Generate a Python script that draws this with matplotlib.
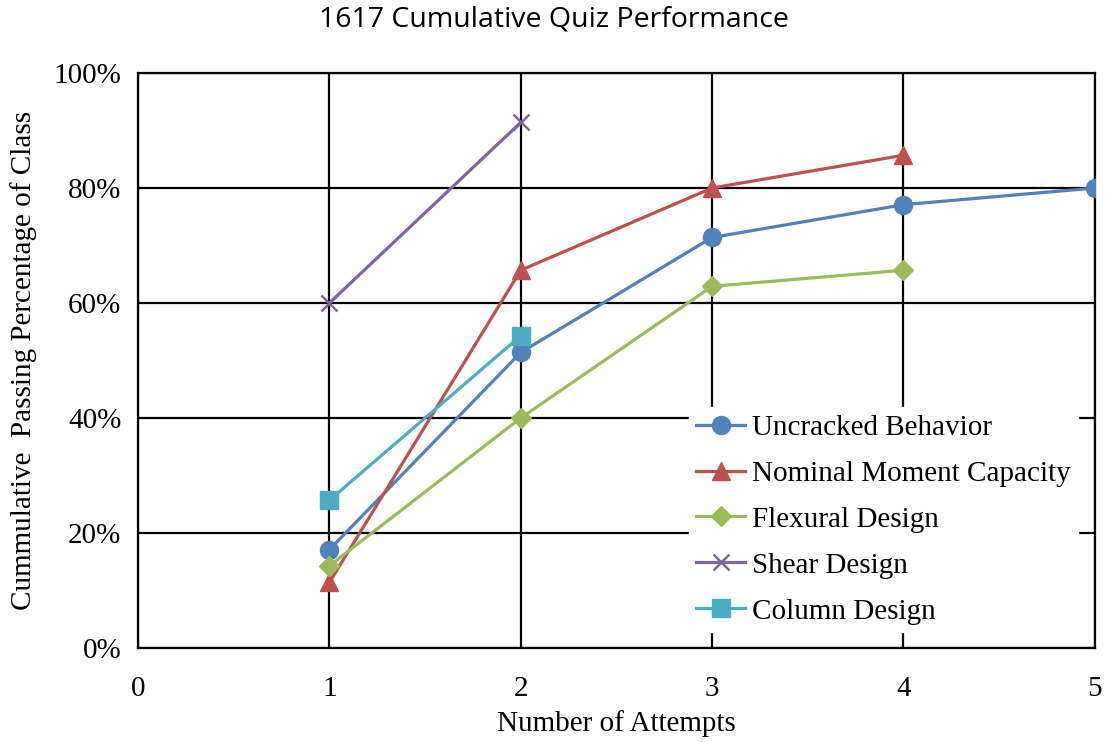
import matplotlib
matplotlib.use("Agg")
import matplotlib.pyplot as plt
from matplotlib.ticker import PercentFormatter

attempts_uncracked = [1, 2, 3, 4, 5]
uncracked = [17.1, 51.4, 71.4, 77.1, 80.0]
attempts_nominal = [1, 2, 3, 4]
nominal = [11.4, 65.7, 80.0, 85.7]
attempts_flexural = [1, 2, 3, 4]
flexural = [14.3, 40.0, 62.9, 65.7]
attempts_shear = [1, 2]
shear = [60.0, 91.4]
attempts_column = [1, 2]
column = [25.7, 54.3]

fig = plt.figure(figsize=(11.07, 7.42), dpi=100)
ax = fig.add_axes([0.1247, 0.1267, 0.8643, 0.7749])

serif = ["Liberation Serif", "DejaVu Serif"]
fs = 21

ax.plot(attempts_uncracked, uncracked, color="#4F81BD", lw=2.3, marker="o", ms=13, label="Uncracked Behavior", zorder=5)
ax.plot(attempts_nominal, nominal, color="#C0504D", lw=2.3, marker="^", ms=13, label="Nominal Moment Capacity", zorder=5)
ax.plot(attempts_flexural, flexural, color="#9BBB59", lw=2.3, marker="D", ms=10, label="Flexural Design", zorder=5)
ax.plot(attempts_shear, shear, color="#8064A2", lw=2.3, marker="x", ms=12, mew=1.8, label="Shear Design", zorder=5)
ax.plot(attempts_column, column, color="#4BACC6", lw=2.3, marker="s", ms=13, label="Column Design", zorder=5)

ax.set_xlim(0, 5)
ax.set_ylim(0, 100)
ax.set_xticks(range(0, 6))
ax.set_yticks(range(0, 101, 20))
ax.yaxis.set_major_formatter(PercentFormatter(decimals=0))
ax.grid(True, color="black", lw=1.6)
ax.set_axisbelow(True)
for s in ax.spines.values():
    s.set_color("black")
    s.set_linewidth(1.6)
ax.tick_params(length=0, labelsize=fs)
ax.tick_params(axis="x", pad=20)
ax.tick_params(axis="y", pad=12)
for lab in ax.get_xticklabels() + ax.get_yticklabels():
    lab.set_family(serif)

ax.set_xlabel("Number of Attempts", family=serif, fontsize=fs, labelpad=6)
ax.set_ylabel("Cummulative  Passing Percentage of Class", family=serif, fontsize=fs, labelpad=12)
fig.suptitle("1617 Cumulative Quiz Performance", family=["Open Sans", "DejaVu Sans"], fontsize=20.5, y=0.993)

leg = ax.legend(loc="upper left", bbox_to_anchor=(0.576, 0.419), frameon=True, fancybox=False,
                edgecolor="white", framealpha=1, prop={"family": serif, "size": fs},
                handlelength=1.65, handletextpad=0.25, labelspacing=0.67, borderpad=0.25,
                borderaxespad=0)
leg.set_zorder(10)

fig.savefig("out.png", dpi=100)
